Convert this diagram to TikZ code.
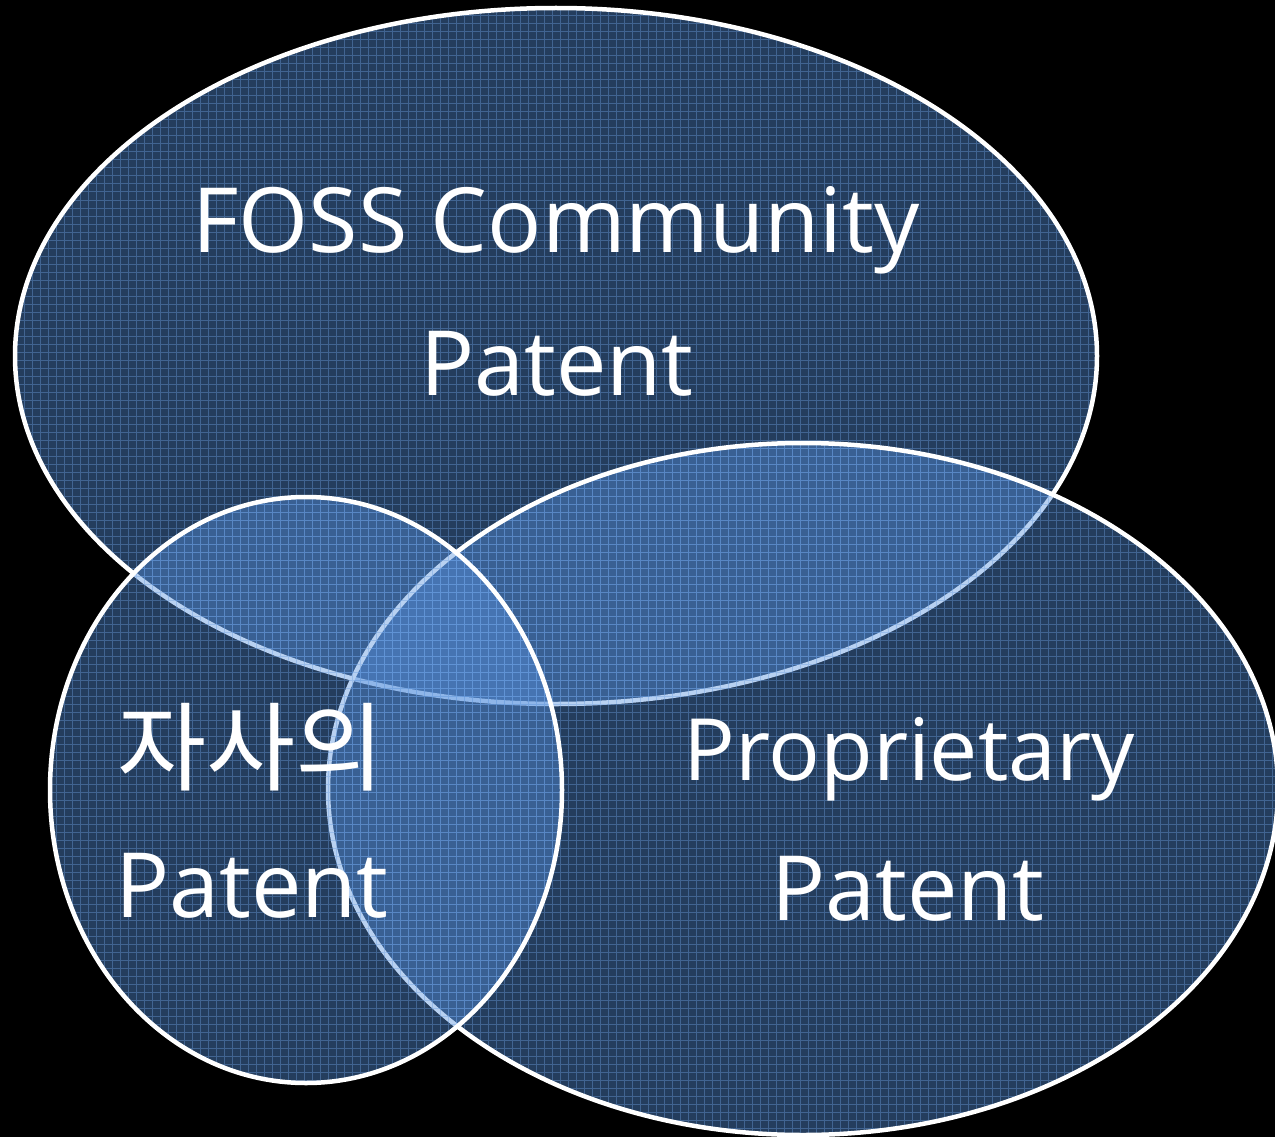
\documentclass[tikz,border=0pt]{standalone}
\usepackage{fontspec}
\setmainfont{Open Sans}
\newfontfamily\krfont{Noto Sans CJK KR}
\definecolor{vennblue}{RGB}{88,146,222}
\definecolor{gridblue}{RGB}{110,160,225}
\begin{document}
\begin{tikzpicture}[x=1pt,y=1pt,
  vennfill/.style={fill=vennblue, fill opacity=0.42},
  vennedge/.style={draw=white, line width=4.5pt},
  gridline/.style={draw=gridblue, line width=1pt, opacity=0.4},
  lbl/.style={text=white, font=\fontsize{90}{143}\selectfont, anchor=base, inner sep=0pt}]
\useasboundingbox (0,0) rectangle (1275,-1137);
\fill[black] (0,0) rectangle (1275,-1137);
% FOSS community
\fill[vennfill] (556,-356) ellipse [x radius=541pt, y radius=348pt];
\begin{scope}
  \clip (556,-356) ellipse [x radius=541pt, y radius=348pt];
  \draw[gridline] (0,-1137) grid[step=8pt] (1275,0);
\end{scope}
\draw[vennedge] (556,-356) ellipse [x radius=541pt, y radius=348pt];
% Proprietary
\fill[vennfill] (803,-789) ellipse [x radius=475pt, y radius=346pt];
\begin{scope}
  \clip (803,-789) ellipse [x radius=475pt, y radius=346pt];
  \draw[gridline] (0,-1137) grid[step=8pt] (1275,0);
\end{scope}
\draw[vennedge] (803,-789) ellipse [x radius=475pt, y radius=346pt];
% own
\fill[vennfill] (306,-790) ellipse [x radius=256pt, y radius=293pt];
\begin{scope}
  \clip (306,-790) ellipse [x radius=256pt, y radius=293pt];
  \draw[gridline] (0,-1137) grid[step=8pt] (1275,0);
\end{scope}
\draw[vennedge] (306,-790) ellipse [x radius=256pt, y radius=293pt];
% labels
\node[lbl] (foss1) at (556,-252) {FOSS Community};
\node[lbl] (foss2) at (557,-395) {Patent};
\node[lbl, font=\fontsize{86}{143}\selectfont] (prop1) at (909,-780) {Proprietary};
\node[lbl] (prop2) at (908,-920) {Patent};
\node[lbl, font=\fontsize{97}{143}\krfont] (own1) at (251,-783) {자사의};
\node[lbl] (own2) at (252,-917) {Patent};
\end{tikzpicture}
\end{document}
